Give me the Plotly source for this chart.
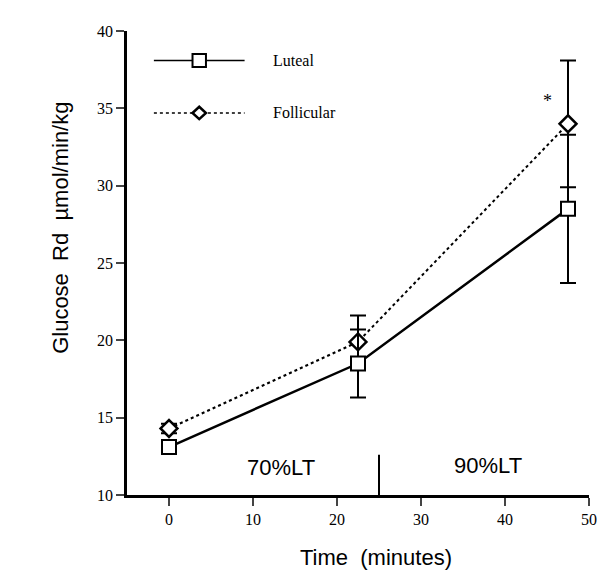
import plotly.graph_objects as go

time_min = [0, 22.5, 47.5]
luteal = [13.1, 18.5, 28.5]
luteal_err = [0.3, 2.2, 4.8]
follicular = [14.3, 19.9, 34.0]
follicular_err = [0.3, 1.7, 4.1]
x_ticks = [0, 10, 20, 30, 40, 50]
y_ticks = [10, 15, 20, 25, 30, 35, 40]

SERIF = "Liberation Serif, Times New Roman, serif"
SANS = "Liberation Sans, Arial, sans-serif"

fig = go.Figure()
fig.add_trace(go.Scatter(
    x=time_min, y=follicular, name="Follicular", mode="lines+markers",
    line=dict(color="black", width=2, dash="dot"),
    marker=dict(symbol="diamond", size=13, color="white", line=dict(color="black", width=2.5)),
    error_y=dict(type="data", array=follicular_err, color="black", thickness=2, width=8),
))
fig.add_trace(go.Scatter(
    x=time_min, y=luteal, name="Luteal", mode="lines+markers",
    line=dict(color="black", width=2.5),
    marker=dict(symbol="square", size=14, color="white", line=dict(color="black", width=2)),
    error_y=dict(type="data", array=luteal_err, color="black", thickness=2, width=8),
))

# manual legend
shapes = [
    dict(type="line", x0=-1.8, x1=9.0, y0=38.1, y1=38.1, line=dict(color="black", width=1.5)),
    dict(type="line", x0=-1.8, x1=9.0, y0=34.7, y1=34.7, line=dict(color="black", width=1.5, dash="dot")),
    dict(type="rect", x0=2.8, x1=4.4, y0=37.68, y1=38.52, fillcolor="white", line=dict(color="black", width=2)),
    dict(type="path", path="M 2.8,34.7 L 3.6,35.1 L 4.4,34.7 L 3.6,34.3 Z",
         fillcolor="white", line=dict(color="black", width=2.5)),
    dict(type="line", x0=25, x1=25, y0=10, y1=12.6, line=dict(color="black", width=2)),
]

annotations = [
    dict(x=12.1, y=38.1, text="Luteal", showarrow=False, xanchor="left",
         font=dict(family=SERIF, size=16, color="black")),
    dict(x=12.1, y=34.7, text="Follicular", showarrow=False, xanchor="left",
         font=dict(family=SERIF, size=16, color="black")),
    dict(x=45, y=35.5, text="*", showarrow=False, font=dict(family=SERIF, size=18, color="black")),
    dict(x=13.3, y=11.75, text="70%LT", showarrow=False, font=dict(family=SANS, size=22, color="black")),
    dict(x=38, y=11.9, text="90%LT", showarrow=False, font=dict(family=SANS, size=22, color="black")),
    dict(xref="paper", yref="paper", x=-0.175, y=0.575, textangle=-90,
         text="Glucose  Rd  µmol/min/kg", showarrow=False,
         font=dict(family=SANS, size=22, color="black")),
    dict(xref="paper", yref="paper", x=0.54, y=-0.135, yanchor="middle",
         text="Time  (minutes)", showarrow=False,
         font=dict(family=SANS, size=22, color="black")),
]

fig.update_layout(
    width=605, height=575,
    margin=dict(l=119, r=24, t=23, b=88),
    plot_bgcolor="white", paper_bgcolor="white",
    showlegend=False,
    shapes=shapes, annotations=annotations,
    xaxis=dict(range=[-5, 50], tickvals=x_ticks, ticks="outside", ticklen=8, tickwidth=2,
               showline=True, linecolor="black", linewidth=2.5, showgrid=False, zeroline=False,
               tickfont=dict(family=SERIF, size=16, color="black")),
    yaxis=dict(range=[10, 40], tickvals=y_ticks, ticks="outside", ticklen=8, tickwidth=2,
               showline=True, linecolor="black", linewidth=2.5, showgrid=False, zeroline=False,
               tickfont=dict(family=SERIF, size=16, color="black")),
)

fig.write_html("out.html")
